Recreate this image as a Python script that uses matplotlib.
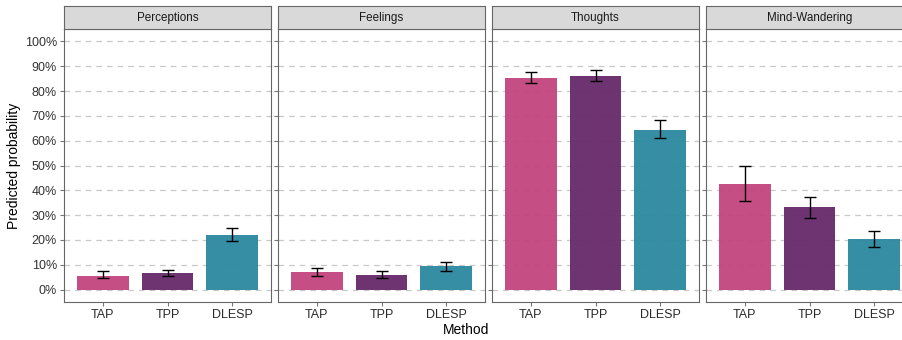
import matplotlib.pyplot as plt
from matplotlib.ticker import FuncFormatter

plt.rcParams['font.family'] = ['Liberation Sans', 'DejaVu Sans']

panels = ['Perceptions', 'Feelings', 'Thoughts', 'Mind-Wandering']
methods = ['TAP', 'TPP', 'DLESP']
colors = ['#C2447F', '#66296A', '#2A889F']

# predicted probabilities (%) and CI bounds
perceptions = [5.6, 6.7, 22.1]
perceptions_lo = [4.5, 5.6, 19.4]
perceptions_hi = [7.3, 8.0, 24.8]
feelings = [7.1, 5.9, 9.5]
feelings_lo = [5.5, 4.5, 7.6]
feelings_hi = [8.7, 7.4, 11.2]
thoughts = [85.3, 85.9, 64.5]
thoughts_lo = [83.3, 83.9, 60.9]
thoughts_hi = [87.7, 88.4, 68.4]
mindwand = [42.7, 33.1, 20.4]
mindwand_lo = [35.7, 28.8, 17.1]
mindwand_hi = [49.8, 37.3, 23.8]

vals = [perceptions, feelings, thoughts, mindwand]
los = [perceptions_lo, feelings_lo, thoughts_lo, mindwand_lo]
his = [perceptions_hi, feelings_hi, thoughts_hi, mindwand_hi]

W, H = 902, 340
fig = plt.figure(figsize=(W / 100, H / 100), dpi=100)

border = '#666666'
lefts = [64, 278, 492, 706]
pw = 207
top, bottom, strip_h = 29, 302, 23

for i, name in enumerate(panels):
    ax = fig.add_axes([lefts[i] / W, 1 - bottom / H, pw / W, (bottom - top) / H])
    x = range(len(methods))
    v = vals[i]
    err = [[v[j] - los[i][j] for j in x], [his[i][j] - v[j] for j in x]]
    ax.bar(x, v, width=0.8, color=colors, alpha=0.95, zorder=2)
    ax.errorbar(x, v, yerr=err, fmt='none', ecolor='black', elinewidth=1,
                capsize=4.4, capthick=1, zorder=3)
    ax.set_xlim(-0.6, 2.6)
    ax.set_ylim(-5, 105)
    ax.set_yticks(range(0, 101, 10))
    ax.yaxis.grid(True, linestyle=(0, (4.5, 4)), color='#C8C8C8', linewidth=0.9, zorder=0)
    ax.set_axisbelow(True)
    ax.set_xticks(list(x))
    ax.set_xticklabels(methods, fontsize=9, color='#2a2a2a')
    ax.tick_params(length=3, width=0.8, color='#777777', pad=2)
    for s in ax.spines.values():
        s.set_color(border)
        s.set_linewidth(0.8)
    if i == 0:
        ax.yaxis.set_major_formatter(FuncFormatter(lambda y, p: f'{y:.0f}%'))
        ax.tick_params(axis='y', labelsize=9, labelcolor='#333333')
        ax.set_ylabel('Predicted probability', fontsize=10, labelpad=3)
    else:
        ax.tick_params(axis='y', labelleft=False)
    # facet strip
    sax = fig.add_axes([lefts[i] / W, 1 - top / H, pw / W, strip_h / H])
    sax.set_facecolor('#D9D9D9')
    sax.set_xticks([])
    sax.set_yticks([])
    for s in sax.spines.values():
        s.set_color(border)
        s.set_linewidth(0.8)
    sax.text(0.5, 0.5, name, ha='center', va='center', fontsize=8.4,
             color='#1a1a1a', transform=sax.transAxes)

fig.text(466 / W, 1 - 330 / H, 'Method', ha='center', va='center', fontsize=10)

fig.savefig('out.png', dpi=100)
